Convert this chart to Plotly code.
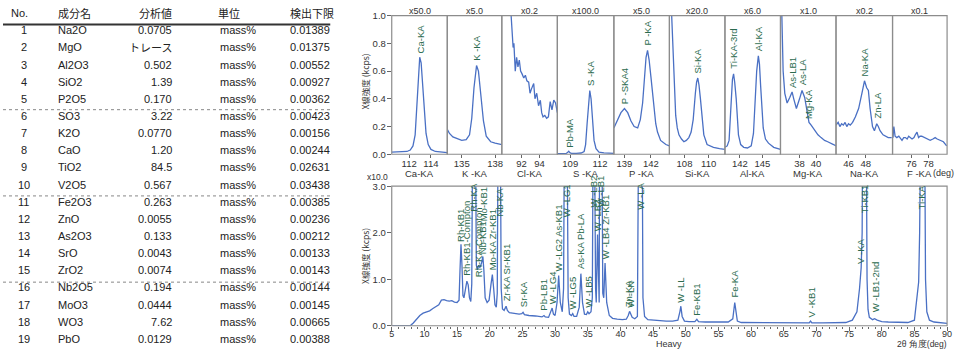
import plotly.graph_objects as go

W, H = 962, 354
def px(x): return x / W
def py(y): return 1 - y / H

# ---------------- table data ----------------
headers = ["No.", "成分名", "分析値", "単位", "検出下限"]
nos = [str(i) for i in range(1, 20)]
names = ["Na2O", "MgO", "Al2O3", "SiO2", "P2O5", "SO3", "K2O", "CaO", "TiO2", "V2O5",
         "Fe2O3", "ZnO", "As2O3", "SrO", "ZrO2", "Nb2O5", "MoO3", "WO3", "PbO"]
values = ["0.0705", "トレース", "0.502", "1.39", "0.170", "3.22", "0.0770", "1.20", "84.5", "0.567",
          "0.263", "0.0055", "0.133", "0.0043", "0.0074", "0.194", "0.0444", "7.62", "0.0129"]
units = ["mass%"] * 19
limits = ["0.01389", "0.01375", "0.00552", "0.00927", "0.00362", "0.00423", "0.00156", "0.00244",
          "0.02631", "0.03438", "0.00385", "0.00236", "0.00212", "0.00133", "0.00143", "0.00144",
          "0.00145", "0.00665", "0.00388"]

# ---------------- light element windows ----------------
elements = ["Ca-KA", "K -KA", "Cl-KA", "S -KA", "P -KA", "Si-KA", "Al-KA", "Mg-KA", "Na-KA", "F -KA"]
mults = ["x50.0", "x5.0", "x0.2", "x100.0", "x5.0", "x20.0", "x6.0", "x1.0", "x0.2", "x0.1"]
win_ticks = [[112, 114], [135, 138], [92, 94], [109, 112], [139, 142],
             [108, 110], [142, 145], [38, 40], [46, 48], [76, 78]]

ca_x = [110.4, 110.9, 111.4, 111.8, 112.1, 112.35, 112.55, 112.7, 112.85, 112.97, 113.1, 113.25, 113.4, 113.55, 113.75, 114.0, 114.4, 114.9, 115.5]
ca_y = [0.015, 0.015, 0.016, 0.02, 0.03, 0.06, 0.14, 0.32, 0.56, 0.70, 0.66, 0.50, 0.30, 0.15, 0.07, 0.035, 0.02, 0.015, 0.012]
k_x = [133.7, 133.9, 134.2, 134.6, 135.0, 135.4, 135.7, 135.9, 136.1, 136.33, 136.5, 136.7, 136.95, 137.2, 137.6, 138.0, 138.4, 138.6]
k_y = [0.18, 0.15, 0.125, 0.11, 0.10, 0.105, 0.14, 0.26, 0.48, 0.64, 0.60, 0.44, 0.24, 0.13, 0.09, 0.08, 0.075, 0.07]
cl_x = [90.6, 90.8, 90.95, 91.06, 91.15, 91.3, 91.45, 91.6, 91.75, 91.9, 92.06, 92.25, 92.43, 92.6, 92.8, 92.95, 93.1, 93.36, 93.5, 93.7, 93.9, 94.1, 94.25, 94.4, 94.6, 94.8, 95.0, 95.2, 95.4, 95.6, 95.8, 96.0]
cl_y = [1.25, 1.02, 0.9, 0.77, 0.80, 0.60, 0.70, 0.63, 0.68, 0.60, 0.58, 0.55, 0.57, 0.53, 0.52, 0.44, 0.47, 0.51, 0.40, 0.44, 0.35, 0.39, 0.30, 0.27, 0.28, 0.26, 0.27, 0.38, 0.32, 0.39, 0.37, 0.30]
s_x = [107.7, 108.2, 108.6, 108.75, 108.85, 108.95, 109.1, 109.6, 110.1, 110.4, 110.55, 110.7, 110.85, 110.97, 111.1, 111.25, 111.4, 111.6, 111.9, 112.4, 113.0, 113.4]
s_y = [0.005, 0.005, 0.006, 0.015, 0.022, 0.012, 0.006, 0.007, 0.009, 0.02, 0.07, 0.22, 0.40, 0.46, 0.40, 0.23, 0.10, 0.04, 0.015, 0.01, 0.008, 0.007]
p_x = [137.8, 138.0, 138.27, 138.6, 139.0, 139.37, 139.74, 140.1, 140.5, 140.8, 141.06, 141.25, 141.45, 141.62, 141.8, 142.0, 142.2, 142.37, 142.55, 142.75, 143.1, 143.7, 144.1]
p_y = [0.19, 0.22, 0.26, 0.30, 0.33, 0.30, 0.24, 0.20, 0.19, 0.25, 0.37, 0.55, 0.70, 0.75, 0.68, 0.56, 0.42, 0.30, 0.22, 0.16, 0.10, 0.07, 0.06]
si_x = [106.8, 106.9, 106.99, 107.13, 107.27, 107.4, 107.54, 107.75, 107.95, 108.15, 108.36, 108.55, 108.72, 108.9, 109.0, 109.1, 109.2, 109.32, 109.45, 109.6, 109.87, 110.4, 110.9, 111.35]
si_y = [1.3, 1.05, 0.84, 0.49, 0.28, 0.19, 0.14, 0.11, 0.09, 0.10, 0.12, 0.16, 0.25, 0.44, 0.52, 0.55, 0.50, 0.40, 0.26, 0.14, 0.07, 0.05, 0.04, 0.035]
al_x = [140.0, 140.3, 140.55, 140.8, 141.0, 141.15, 141.3, 141.5, 141.8, 142.1, 142.5, 143.0, 143.5, 143.8, 144.0, 144.23, 144.45, 144.6, 144.76, 145.1, 145.4, 145.8, 146.5, 147.4]
al_y = [0.05, 0.06, 0.10, 0.37, 0.54, 0.58, 0.52, 0.40, 0.14, 0.07, 0.05, 0.045, 0.06, 0.15, 0.35, 0.60, 0.71, 0.65, 0.49, 0.19, 0.11, 0.08, 0.05, 0.035]
mg_x = [35.75, 35.85, 36.02, 36.22, 36.5, 36.82, 37.1, 37.3, 37.62, 38.0, 38.3, 38.62, 38.9, 39.14, 39.4, 39.62, 40.22, 40.6, 41.02, 41.4, 41.82, 42.1, 42.4]
mg_y = [1.3, 0.95, 0.60, 0.44, 0.37, 0.41, 0.45, 0.40, 0.33, 0.40, 0.46, 0.41, 0.30, 0.23, 0.21, 0.19, 0.14, 0.12, 0.10, 0.09, 0.08, 0.07, 0.06]
na_x = [44.55, 44.8, 45.0, 45.2, 45.4, 45.6, 45.8, 46.0, 46.2, 46.47, 46.8, 47.17, 47.55, 47.85, 48.1, 48.3, 48.5, 48.78, 49.0, 49.27, 49.45, 49.65, 50.0, 50.3, 50.6, 51.0]
na_y = [0.21, 0.23, 0.20, 0.22, 0.21, 0.23, 0.20, 0.22, 0.21, 0.23, 0.27, 0.33, 0.44, 0.53, 0.48, 0.46, 0.33, 0.20, 0.17, 0.22, 0.20, 0.17, 0.14, 0.13, 0.12, 0.12]
f_x = [73.85, 73.95, 74.1, 74.3, 74.53, 74.9, 75.1, 75.3, 75.5, 75.68, 76.07, 76.3, 76.45, 76.65, 76.83, 77.0, 77.2, 77.6, 77.9, 78.18, 78.5, 78.76, 79.0, 79.34, 79.72, 80.1]
f_y = [0.12, 0.20, 0.13, 0.12, 0.13, 0.10, 0.12, 0.12, 0.11, 0.13, 0.11, 0.12, 0.14, 0.16, 0.12, 0.13, 0.13, 0.12, 0.11, 0.10, 0.11, 0.12, 0.11, 0.10, 0.09, 0.06]

win_x = [ca_x, k_x, cl_x, s_x, p_x, si_x, al_x, mg_x, na_x, f_x]
win_y = [ca_y, k_y, cl_y, s_y, p_y, si_y, al_y, mg_y, na_y, f_y]

# peak labels of the windows: (window index, text, 2theta, label base intensity)
top_lab_win = [0, 1, 3, 3, 4, 4, 5, 6, 6, 7, 7, 7, 8, 8]
top_lab_txt = ["Ca-KA", "K -KA", "Pb-MA", "S -KA", "P -SKA4", "P -KA", "Si-KA", "Ti-KA-3rd", "Al-KA",
               "As-LB1", "As-LA", "Mg-KA", "Na-KA", "Zn-LA"]
top_lab_x = [113.0, 136.33, 108.85, 110.97, 139.0, 141.62, 109.1, 141.15, 144.48, 37.1, 38.3, 39.15, 47.9, 49.3]
top_lab_y = [0.71, 0.66, 0.03, 0.48, 0.35, 0.77, 0.57, 0.60, 0.73, 0.46, 0.48, 0.24, 0.55, 0.24]

# ---------------- heavy element scan ----------------
two_theta = [5.0, 7.5, 7.9, 8.3, 8.8, 9.3, 9.8, 10.3, 10.8, 11.3, 11.8, 12.2, 12.6, 13.0, 13.4, 13.8, 14.2, 14.6, 15.0,
             15.3, 15.45, 15.6, 15.75, 15.9, 16.05, 16.3, 16.5, 16.7, 16.9, 17.1, 17.25, 17.35, 17.85, 17.95, 18.1,
             18.3, 18.5, 18.75, 18.95, 19.1, 19.3, 19.6, 19.9, 20.2, 20.4, 20.6, 20.8, 21.0, 21.15, 21.25, 21.65,
             21.75, 21.95, 22.2, 22.5, 22.7, 23.0, 23.5, 24.0, 24.5, 24.9, 25.1, 25.3, 26.0, 27.0, 28.0, 28.3, 28.5,
             29.0, 29.4, 29.55, 29.75, 30.0, 30.3, 30.55, 30.8, 31.1, 31.3, 31.4, 31.87, 32.0, 32.2, 32.5, 32.7,
             32.9, 33.3, 33.7, 33.95, 34.2, 34.5, 34.8, 35.0, 35.2, 35.5, 35.7, 35.8, 36.07, 36.2, 36.3, 36.5,
             36.65, 36.75, 36.8, 37.2, 37.3, 37.45, 37.65, 37.9, 38.3, 38.8, 39.5, 40.3, 40.9, 41.2, 41.4, 41.6,
             41.8, 42.2, 42.6, 42.75, 43.35, 43.45, 43.7, 44.2, 45.0, 46.0, 47.0, 48.0, 48.8, 49.1, 49.25, 49.45,
             49.8, 50.5, 51.4, 51.7, 51.95, 53.0, 55.0, 56.5, 57.2, 57.5, 57.7, 57.9, 58.5, 60.0, 62.0, 64.0,
             66.0, 68.0, 68.9, 69.1, 69.3, 71.0, 73.0, 74.5, 75.5, 76.2, 76.6, 76.85, 77.0, 77.05, 77.66, 77.75,
             77.9, 78.1, 78.6, 78.9, 79.3, 80.0, 81.0, 82.5, 84.0, 85.0, 85.4, 85.65, 85.8, 85.9, 86.6, 86.7,
             86.9, 87.3, 88.0, 89.0, 90.0]
intensity = [0.0, 0.0, 0.01, 0.06, 0.14, 0.22, 0.27, 0.30, 0.32, 0.37, 0.42, 0.45, 0.55, 0.56, 0.54, 0.53, 0.54, 0.51, 0.50,
             0.55, 1.2, 1.75, 1.3, 0.65, 0.6, 0.85, 0.96, 0.88, 0.6, 0.52, 0.9, 3.5, 3.5, 1.3, 1.2,
             1.3, 1.25, 1.35, 1.49, 1.2, 0.6, 0.5, 0.55, 0.9, 1.1, 0.8, 0.45, 0.4, 0.7, 3.5, 3.5,
             0.8, 0.36, 0.33, 0.42, 0.33, 0.28, 0.27, 0.26, 0.25, 0.26, 0.29, 0.24, 0.22, 0.21, 0.19, 0.22, 0.19,
             0.18, 0.3, 0.38, 0.25, 0.22, 0.5, 1.08, 0.5, 0.3, 0.8, 3.5, 3.5, 0.6, 0.25, 0.22, 0.26,
             0.2, 0.2, 0.4, 1.12, 0.5, 0.25, 0.24, 0.3, 0.26, 0.3, 0.6, 3.5, 3.5, 0.8, 0.5, 1.96,
             0.6, 0.5, 3.5, 3.5, 0.7, 0.6, 1.35, 0.5, 0.22, 0.16, 0.14, 0.13, 0.14, 0.22, 0.31, 0.25,
             0.18, 0.15, 0.2, 3.5, 3.5, 0.6, 0.2, 0.13, 0.12, 0.11, 0.10, 0.10, 0.12, 0.3, 0.42, 0.2,
             0.1, 0.09, 0.09, 0.14, 0.09, 0.08, 0.08, 0.08, 0.15, 0.50, 0.3, 0.1, 0.07, 0.07, 0.065, 0.06,
             0.06, 0.06, 0.06, 0.1, 0.06, 0.06, 0.06, 0.07, 0.12, 0.3, 0.8, 1.25, 2.0, 3.5, 3.5, 1.0,
             0.35, 0.18, 0.13, 0.15, 0.12, 0.09, 0.08, 0.07, 0.07, 0.12, 0.6, 0.94, 2.0, 3.5, 3.5, 1.0,
             0.3, 0.12, 0.08, 0.06, 0.05]

bot_lab_txt = ["Rh-KB1", "Rh-KB1-Compton", "Rh-KA", "Rh-KA-Compton", "Nb-KB1", "Mo-KB1", "Mo-KA Zr-KB1", "Nb-KA",
               "Zr-KA Sr-KB1", "Sr-KA", "Pb-LB1", "W -LG4", "W -LG2 As-KB1", "W -LG1", "W -LG5", "As-KA Pb-LA",
               "W -LB5", "W -LB2", "W -LB3", "W -LB1", "W -LB4 Zr-KB1", "Zn-KA", "W -LN", "W -LA",
               "W -LL", "Fe-KB1", "Fe-KA", "V -KB1", "V -KA", "Ti-KB1", "W -LB1-2nd", "Ti-KA"]
bot_lab_x = [15.6, 16.5, 17.6, 18.2, 18.95, 19.1, 20.43, 21.45, 22.7, 25.2, 28.3, 29.6, 30.6, 31.65, 32.7, 34.0,
             35.1, 35.95, 36.5, 37.0, 37.65, 41.3, 41.6, 43.05, 49.2, 51.7, 57.5, 69.2, 76.85, 77.4, 79.0, 86.1]
bot_lab_y = [1.77, 1.04, 2.4, 1.0, 1.5, 2.2, 1.15, 2.3, 0.49, 0.35, 0.28, 0.42, 1.11, 2.3, 0.31, 1.18,
             0.35, 2.5, 1.98, 2.5, 1.39, 0.35, 0.35, 2.45, 0.45, 0.17, 0.56, 0.14, 1.28, 2.38, 0.24, 2.45]

# ---------------- figure ----------------
LINE = "#4a70c4"
LAB = "#2b6b4e"
TXT = "#333333"
bounds = [392, 448, 503, 559, 616, 672, 728, 784, 840, 897, 952]
win_ranges = [[110.4, 115.5], [133.7, 138.6], [89.8, 96.0], [107.7, 113.4], [137.8, 144.1],
              [106.75, 111.35], [140.0, 147.4], [35.7, 42.4], [44.55, 51.1], [73.8, 80.15]]
top_dom = [py(153), py(10)]
bot_dom = [py(330), py(186)]
LAT = "Liberation Sans, Arial, sans-serif"
JP = "Noto Sans CJK JP, sans-serif"
NARROW = "Liberation Sans Narrow, Arial Narrow, Liberation Sans, sans-serif"

fig = go.Figure()
layout = dict(width=W, height=H, margin=dict(l=0, r=0, t=0, b=0), paper_bgcolor="white",
              plot_bgcolor="white", showlegend=False)
ann = []
shapes = []

for i in range(10):
    ax = "x" if i == 0 else f"x{i+1}"
    fig.add_trace(go.Scatter(x=win_x[i], y=win_y[i], mode="lines", xaxis=ax, yaxis="y",
                             line=dict(color=LINE, width=1.3), hoverinfo="skip"))
    layout["xaxis" if i == 0 else f"xaxis{i+1}"] = dict(
        domain=[px(bounds[i]), px(bounds[i + 1])], range=win_ranges[i], anchor="y",
        tickvals=win_ticks[i], ticks="outside", ticklen=3, tickcolor="#666", ticklabelstandoff=-3,
        tickfont=dict(family=LAT, size=9.5, color=TXT), showgrid=False, zeroline=False, showline=False)
    cx = (bounds[i] + bounds[i + 1]) / 2
    ann.append(dict(xref="paper", yref="paper", x=px(cx), y=py(5), text=mults[i], showarrow=False,
                    font=dict(family=LAT, size=9, color=TXT), xanchor="center", yanchor="middle"))
    ann.append(dict(xref="paper", yref="paper", x=px(cx), y=py(172.5), text=elements[i], showarrow=False,
                    font=dict(family=LAT, size=9.5, color=TXT), xanchor="center", yanchor="middle"))
    shapes.append(dict(type="rect", xref="paper", yref="paper", x0=px(bounds[i]), x1=px(bounds[i + 1]),
                       y0=top_dom[0], y1=top_dom[1], line=dict(color="#8c8c8c", width=1.2)))

for t, w, xv, yv in zip(top_lab_txt, top_lab_win, top_lab_x, top_lab_y):
    ax = "x" if w == 0 else f"x{w+1}"
    ann.append(dict(xref=ax, yref="y", x=xv, y=yv, text=t, textangle=-90, showarrow=False,
                    font=dict(family=NARROW, size=9.5, color=LAB), xanchor="center", yanchor="bottom"))

layout["yaxis"] = dict(domain=top_dom, range=[0, 1.0], anchor="x", tickvals=[0, 0.2, 0.4, 0.6, 0.8, 1.0],
                       ticktext=["0.0", "0.2", "0.4", "0.6", "0.8", "1.0"], ticks="outside", ticklen=4,
                       tickcolor="#666", tickfont=dict(family=LAT, size=9.5, color=TXT), ticklabelstandoff=-1,
                       showgrid=False, zeroline=False, showline=False)

fig.add_trace(go.Scatter(x=two_theta, y=intensity, mode="lines", xaxis="x11", yaxis="y2",
                         line=dict(color=LINE, width=1.3), hoverinfo="skip"))
layout["xaxis11"] = dict(domain=[px(392), px(952)], range=[5, 90], anchor="y2",
                         tickvals=list(range(5, 91, 5)), ticks="outside", ticklen=4, tickcolor="#666",
                         minor=dict(dtick=1, tick0=5, ticks="outside", ticklen=2, tickcolor="#666"),
                         tickfont=dict(family=LAT, size=9, color=TXT), ticklabelstandoff=-5,
                         showgrid=False, zeroline=False, showline=False)
layout["yaxis2"] = dict(domain=bot_dom, range=[0, 3.0], anchor="x11", tickvals=[0, 1, 2, 3],
                        ticktext=["0.0", "1.0", "2.0", "3.0"], ticks="outside", ticklen=4, tickcolor="#666",
                        tickfont=dict(family=LAT, size=9.5, color=TXT), ticklabelstandoff=-1,
                        showgrid=False, zeroline=False, showline=False)
shapes.append(dict(type="rect", xref="paper", yref="paper", x0=px(392), x1=px(952),
                   y0=bot_dom[0], y1=bot_dom[1], line=dict(color="#8c8c8c", width=1.2)))

for t, xv, yv in zip(bot_lab_txt, bot_lab_x, bot_lab_y):
    ann.append(dict(xref="x11", yref="y2", x=xv, y=yv, text=t, textangle=-90, showarrow=False,
                    font=dict(family=NARROW, size=9.5, color=LAB), xanchor="center", yanchor="bottom"))

# axis captions
for yc in (78, 258):
    ann.append(dict(xref="paper", yref="paper", x=px(365), y=py(yc), text="X線強度 (kcps)", textangle=-90,
                    showarrow=False, font=dict(family=JP, size=8.5, color=TXT), xanchor="center", yanchor="middle"))
ann.append(dict(xref="paper", yref="paper", x=px(390), y=py(176), text="x10.0", showarrow=False,
                font=dict(family=LAT, size=8.5, color=TXT), xanchor="right", yanchor="middle"))
ann.append(dict(xref="paper", yref="paper", x=px(672), y=py(349), text="Heavy", showarrow=False,
                font=dict(family=LAT, size=9, color=TXT), xanchor="center", yanchor="middle"))
ann.append(dict(xref="paper", yref="paper", x=px(953), y=py(355), text="2θ 角度(deg)", showarrow=False,
                font=dict(family=LAT, size=8.5, color=TXT), xanchor="right", yanchor="bottom", borderpad=0))
ann.append(dict(xref="paper", yref="paper", x=px(961), y=py(172.5), text="(deg)", showarrow=False,
                font=dict(family=LAT, size=9, color=TXT), xanchor="right", yanchor="middle"))

# ---------------- table ----------------
def row_y(i):
    return 25 + i * 17.7

col_x = [21, 53, 172, 217, 287]
col_anchor = ["center", "left", "right", "left", "left"]
hdr_x = [17, 53, 154, 228, 287]
hdr_anchor = ["center", "left", "center", "center", "left"]
for h, xh, an in zip(headers, hdr_x, hdr_anchor):
    ann.append(dict(xref="paper", yref="paper", x=px(xh), y=py(7), text=h, showarrow=False,
                    font=dict(family=JP if h != "No." else LAT, size=11, color="#222"),
                    xanchor=an, yanchor="middle"))
cols = [nos, names, values, units, limits]
for c, col in enumerate(cols):
    for r, v in enumerate(col):
        fam = JP if v == "トレース" else LAT
        ann.append(dict(xref="paper", yref="paper", x=px(col_x[c]), y=py(row_y(r)), text=v, showarrow=False,
                        font=dict(family=fam, size=11, color="#222"), xanchor=col_anchor[c], yanchor="middle"))

shapes.append(dict(type="line", xref="paper", yref="paper", x0=0, x1=px(330), y0=py(19), y1=py(19),
                   line=dict(color="#333", width=2)))
for yl in (107, 196, 285):
    shapes.append(dict(type="line", xref="paper", yref="paper", x0=0, x1=px(330), y0=py(yl), y1=py(yl),
                       line=dict(color="#888", width=1, dash="dot")))

layout["annotations"] = ann
layout["shapes"] = shapes
fig.update_layout(**layout)
fig.write_html("out.html")
